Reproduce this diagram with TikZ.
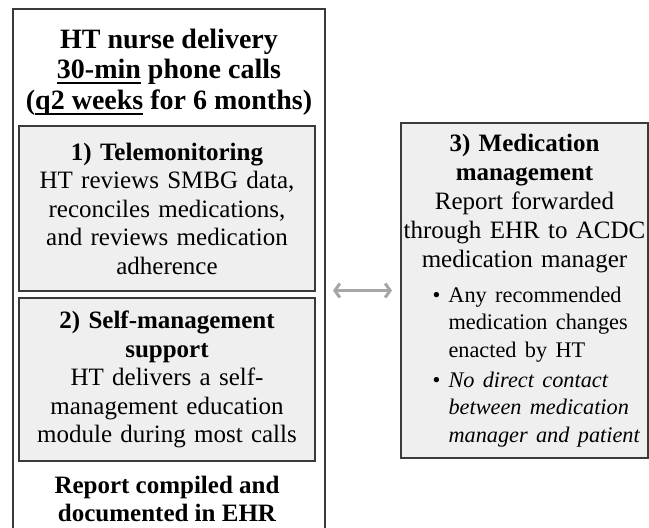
\documentclass[tikz,border=0pt]{standalone}
\usepackage{fontspec}
\setmainfont{Liberation Serif}
\usepackage{xcolor}
\usepackage{tikz}
\usetikzlibrary{arrows.meta, positioning}

\definecolor{boxgray}{HTML}{EFEFEF}
\definecolor{framegray}{HTML}{3A3A3A}
\definecolor{arrowgray}{HTML}{A6A6A6}

% thick underline at a fixed depth
\newsavebox{\ulbox}
\newcommand{\thickul}[1]{\sbox{\ulbox}{#1}\rlap{\rule[-5.5pt]{\wd\ulbox}{2pt}}\usebox{\ulbox}}
% bullet line with hanging indent (lines broken with \newline)
\newcommand{\bulletitem}[1]{\par\noindent\hangindent=40pt\hangafter=1\hspace*{24pt}\makebox[16pt][l]{\textbullet}#1\par}

\begin{document}
\begin{tikzpicture}[
      x=1pt, y=1pt,
      every node/.style={font=\fontsize{25}{28.5}\selectfont, align=center, inner sep=2pt, outer sep=0pt},
      panel/.style={draw=framegray, line width=1.3pt, fill=boxgray, text width=290pt, minimum width=296pt},
      head/.style={font=\bfseries\fontsize{28}{30.5}\selectfont},
      arrow/.style={{Straight Barb[length=5pt,width=14pt]}-{Straight Barb[length=5pt,width=14pt]}, line width=3pt, draw=arrowgray}
    ]
    \useasboundingbox (0,0) rectangle (649,-528);

    % outer frame runs on past the lower edge
    \node (frame) [draw=framegray, line width=1.3pt, minimum width=312pt, minimum height=560pt, anchor=north west] at (13,-9) {};

    \node (title) [head] at (169,-72) {HT nurse delivery\\ \thickul{30-min} phone calls\\ (\thickul{q2 weeks} for 6 months)};

    \node (tele) [panel, minimum height=165pt, anchor=north] at (167,-126) {\textbf{1) Telemonitoring}\\ HT reviews SMBG data,\\ reconciles medications,\\ and reviews medication\\ adherence};
    \node (selfmgmt) [panel, minimum height=163pt, below=7pt of tele] {\textbf{2) Self-management}\\ \textbf{support}\\ HT delivers a self-\\ management education\\ module during most calls};

    \node (report) [font=\bfseries\fontsize{25}{28.5}\selectfont, below=13pt of selfmgmt] {Report compiled and\\ documented in EHR};

    \node (medmgr) [panel, font=\fontsize{25}{29}\selectfont, text width=243pt, minimum width=247pt, minimum height=335pt, anchor=north west] at (401,-123) {\textbf{3) Medication}\\ \textbf{management}\\ Report forwarded\\ through EHR to ACDC\\ medication manager\\[6pt]
      \begin{minipage}[t]{232pt}\raggedright\fontsize{22.3}{27.5}\selectfont
        \bulletitem{Any recommended\newline medication changes\newline enacted by HT}
        \vspace{2.5pt}
        \bulletitem{\itshape No direct contact\newline between medication\newline manager and patient}
      \end{minipage}};

    \draw[arrow, shorten <=8pt, shorten >=9pt] (frame.east |- medmgr.west) -- (medmgr.west);

    \end{tikzpicture}
\end{document}
